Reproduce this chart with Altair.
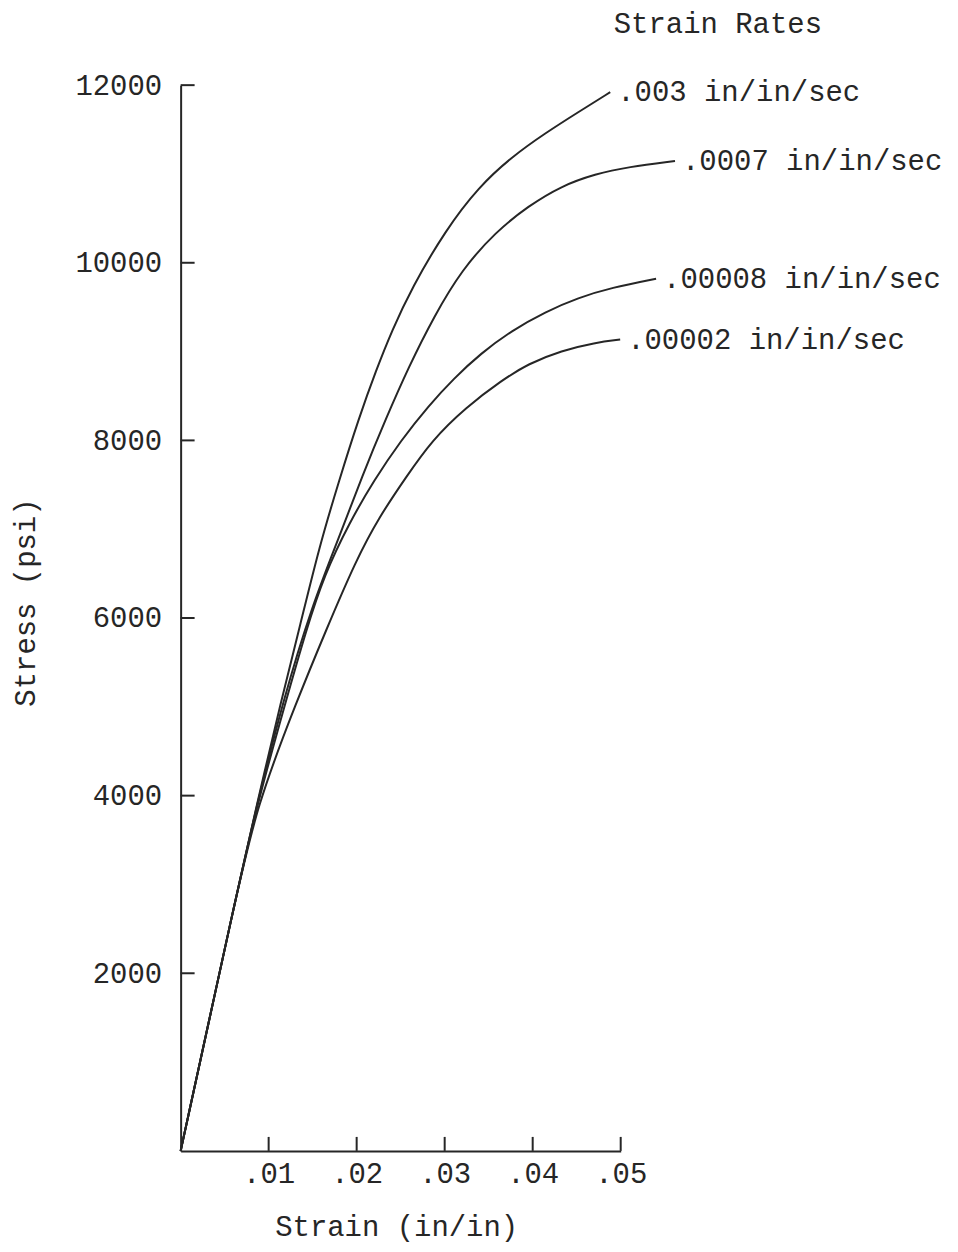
import altair as alt
import pandas as pd

# ---- data ----
rates = [".003 in/in/sec", ".0007 in/in/sec", ".00008 in/in/sec", ".00002 in/in/sec"]

strain_003 = [0.0, 0.00623, 0.00861, 0.01144, 0.01359, 0.01574, 0.01801, 0.02027,
              0.02220, 0.02401, 0.02627, 0.03012, 0.03386, 0.03760, 0.04145, 0.04519, 0.04881]
stress_003 = [0, 2831, 3876, 5079, 5921, 6798, 7551, 8258,
              8787, 9236, 9719, 10371, 10854, 11191, 11461, 11697, 11921]

strain_0007 = [0.0, 0.00623, 0.00861, 0.01166, 0.01495, 0.01801, 0.02061, 0.02333,
               0.02593, 0.02877, 0.03194, 0.03579, 0.03952, 0.04326, 0.04711, 0.05085, 0.05617]
stress_0007 = [0, 2831, 3876, 5079, 6146, 6910, 7596, 8247,
               8831, 9393, 9921, 10348, 10640, 10865, 11000, 11079, 11146]

strain_00008 = [0.0, 0.00623, 0.00861, 0.01200, 0.01427, 0.01631, 0.01914, 0.02197,
                0.02503, 0.02820, 0.03103, 0.03409, 0.03760, 0.04145, 0.04519, 0.04892, 0.05402]
stress_00008 = [0, 2831, 3876, 5079, 5865, 6483, 7067, 7551,
                8000, 8393, 8697, 8978, 9236, 9449, 9607, 9719, 9820]

strain_00002 = [0.0, 0.00623, 0.00861, 0.01325, 0.01653, 0.01993, 0.02254, 0.02559,
                0.02854, 0.03239, 0.03647, 0.03952, 0.04326, 0.04711, 0.04994]
stress_00002 = [0, 2831, 3876, 5079, 5865, 6652, 7135, 7584,
                8000, 8371, 8674, 8865, 9011, 9101, 9135]

x_ticks = [0.01, 0.02, 0.03, 0.04, 0.05]
y_ticks = [2000, 4000, 6000, 8000, 10000, 12000]

legend_title = "Strain Rates"
x_title = "Strain (in/in)"
y_title = "Stress (psi)"

# ---- build tables ----
strains = [strain_003, strain_0007, strain_00008, strain_00002]
stresses = [stress_003, stress_0007, stress_00008, stress_00002]
rows = []
for rate, xs, ys in zip(rates, strains, stresses):
    for i, (x, y) in enumerate(zip(xs, ys)):
        rows.append({"rate": rate, "strain": x, "stress": y, "i": i})
df = pd.DataFrame(rows)
ends = df.groupby("rate", sort=False).tail(1)

W, H = 441, 1068
FONT = "Liberation Mono"
INK = "#262626"
FS = 29

xscale = alt.Scale(domain=[0, 0.05], nice=False, zero=False)
yscale = alt.Scale(domain=[0, 12000], nice=False, zero=False)

x_axis = alt.Axis(
    values=x_ticks,
    labelExpr="substring(format(datum.value, '.2f'), 1)",
    ticks=False, tickSize=0, grid=False,
    domainColor=INK, domainWidth=2,
    labelFont=FONT, labelFontSize=FS, labelColor=INK,
    labelBaseline="middle", labelPadding=23, labelFlush=False, labelOverlap=False,
    title=x_title, titleFont=FONT, titleFontSize=FS, titleFontWeight="normal",
    titleColor=INK, titleX=216, titleY=76, titleBaseline="middle", titleAlign="center",
)
y_axis = alt.Axis(
    values=y_ticks, format="d",
    ticks=False, tickSize=0, grid=False,
    domainColor=INK, domainWidth=2,
    labelFont=FONT, labelFontSize=FS, labelColor=INK,
    labelAlign="right", labelBaseline="middle", labelPadding=19,
    labelFlush=False, labelOverlap=False,
    title=y_title, titleFont=FONT, titleFontSize=FS, titleFontWeight="normal",
    titleColor=INK, titleX=-155, titleY=518, titleAngle=270,
    titleBaseline="middle", titleAlign="center",
)

lines = alt.Chart(df).mark_line(
    interpolate="basis", stroke=INK, strokeWidth=2
).encode(
    x=alt.X("strain:Q", scale=xscale, axis=x_axis),
    y=alt.Y("stress:Q", scale=yscale, axis=y_axis),
    detail="rate:N",
    order="i:Q",
)

ytick_rules = alt.Chart(pd.DataFrame({"stress": y_ticks})).mark_rule(
    stroke=INK, strokeWidth=2
).encode(
    y=alt.Y("stress:Q", scale=yscale),
    x=alt.value(0), x2=alt.value(14),
)

xtick_rules = alt.Chart(pd.DataFrame({"strain": x_ticks})).mark_rule(
    stroke=INK, strokeWidth=2
).encode(
    x=alt.X("strain:Q", scale=xscale),
    y=alt.value(H), y2=alt.value(H - 14),
)

labels = alt.Chart(ends).mark_text(
    align="left", baseline="middle", dx=7, font=FONT, fontSize=FS, color=INK
).encode(
    x=alt.X("strain:Q", scale=xscale),
    y=alt.Y("stress:Q", scale=yscale),
    text="rate:N",
)

header = alt.Chart(pd.DataFrame({"t": [legend_title]})).mark_text(
    align="left", baseline="middle", font=FONT, fontSize=FS, color=INK
).encode(
    x=alt.value(434), y=alt.value(-61), text="t:N",
)

chart = alt.layer(lines, ytick_rules, xtick_rules, labels, header).properties(
    width=W, height=H,
    autosize=alt.AutoSizeParams(type="none"),
    padding={"left": 173, "top": 76, "right": 330, "bottom": 92},
    background="white",
).configure_view(stroke=None)

chart.save("out.html", embed_options={"renderer": "svg", "actions": False})
